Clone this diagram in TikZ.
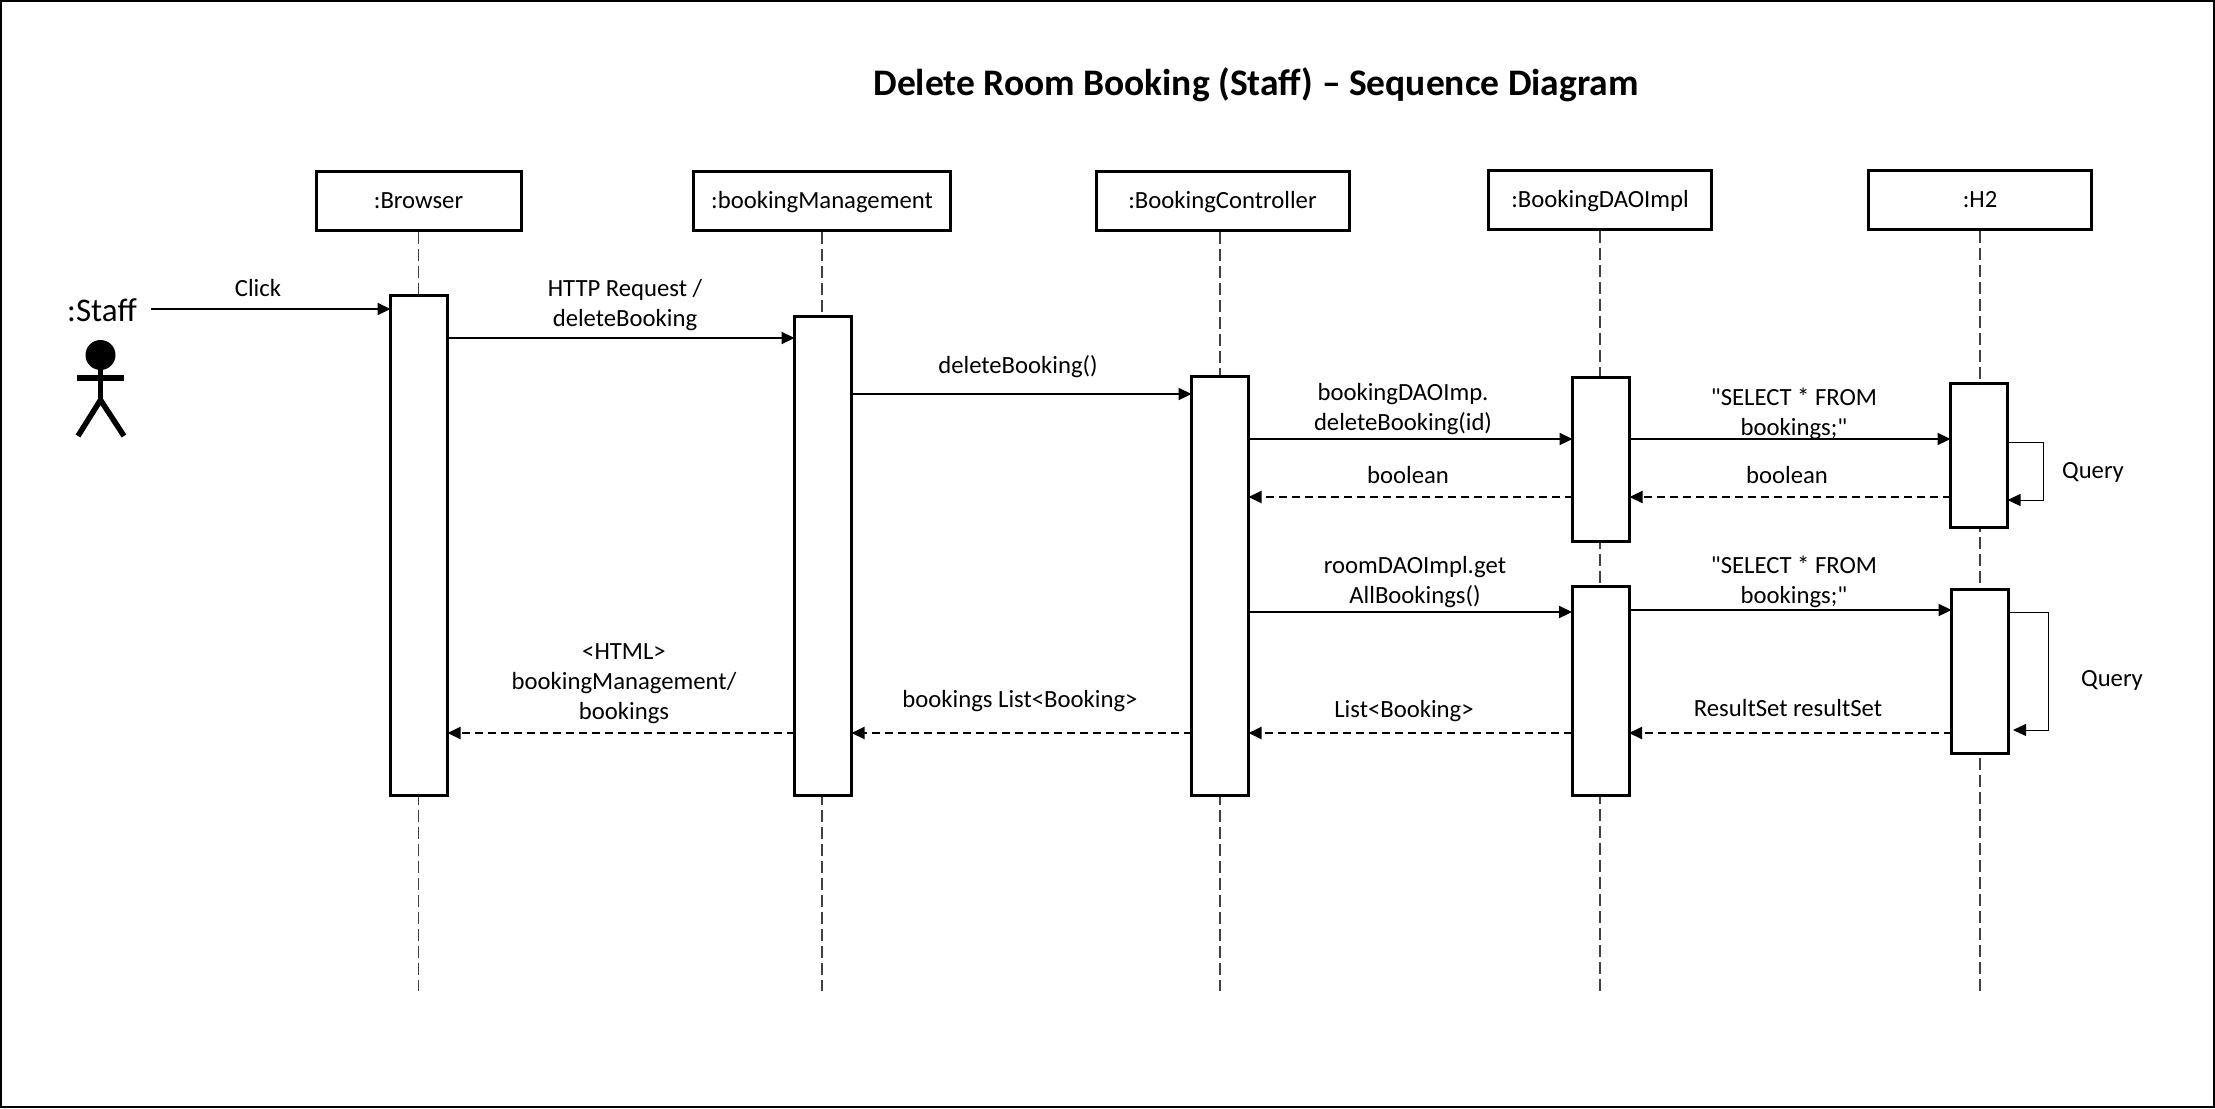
\documentclass[tikz,border=0pt]{standalone}
\usepackage{fontspec}
\setmainfont{Carlito}[Ligatures=TeXOff]
\usetikzlibrary{arrows.meta}
\tikzset{
	headbox/.style={draw,line width=3pt,minimum height=59pt,inner sep=0pt,text height=16pt,text depth=0pt,font=\fontsize{24.7}{30}\selectfont},
	actbar/.style={draw,line width=3pt,fill=white,minimum width=57pt,inner sep=0pt,outer sep=0pt},
	lifeline/.style={line width=1.1pt,draw=black!75,dash pattern=on 12pt off 5pt},
	msg/.style={line width=2.1pt,-{Triangle[length=13pt,width=12pt]}},
	reply/.style={line width=2.1pt,dash pattern=on 8pt off 5pt,-{Triangle[length=13pt,width=12pt]}},
	selfmsg/.style={line width=1pt,-{Triangle[length=13pt,width=12pt]}},
	lbl/.style={align=center,inner sep=0pt,font=\fontsize{24.7}{30}\selectfont},
}
\begin{document}
\begin{tikzpicture}[x=1pt,y=-1pt]
	\useasboundingbox (0,0) rectangle (2215,1108);
	\draw[line width=2.5pt] (1,1) rectangle (2214,1107);
	\node[inner sep=0pt,font=\fontsize{37.5}{44}\selectfont\bfseries] (title) at (1256,85) {Delete Room Booking (Staff) – Sequence Diagram};
	\node[headbox,minimum width=205pt] (browser) at (418.5,200.5) {:Browser};
	\node[headbox,minimum width=257pt] (management) at (822,200.5) {:bookingManagement};
	\node[headbox,minimum width=253pt] (controller) at (1222.5,200.5) {:BookingController};
	\node[headbox,minimum width=223pt] (dao) at (1600,199.5) {:BookingDAOImpl};
	\node[headbox,minimum width=223pt] (htwo) at (1980,199.5) {:H2};
	\draw[lifeline] (browser.south) -- (browser.south |- 0,991);
	\draw[lifeline] (management.south) -- (management.south |- 0,991);
	\draw[lifeline] (controller.south -| 1220,0) -- (1220,991);
	\draw[lifeline] (dao.south) -- (dao.south |- 0,991);
	\draw[lifeline] (htwo.south) -- (htwo.south |- 0,991);
	\node[actbar,minimum height=500pt] (browserbar) at (419,545) {};
	\node[actbar,minimum height=479pt] (managementbar) at (823,555.5) {};
	\node[actbar,minimum height=419pt] (controllerbar) at (1220,585.5) {};
	\node[actbar,minimum height=164pt] (daobarone) at (1601,459) {};
	\node[actbar,minimum height=144pt] (htwobarone) at (1979,455) {};
	\node[actbar,minimum height=209pt] (daobartwo) at (1600.5,690.5) {};
	\node[actbar,minimum height=164pt] (htwobartwo) at (1980,671) {};
	\node[lbl,font=\fontsize{33}{36}\selectfont] (staff) at (102,310) {:Staff};
	\node[circle,fill,inner sep=0pt,minimum size=30pt] (head) at (100.5,355) {};
	\coordinate (hip) at (100.5,400);
	\draw[line width=5.5pt] (head) -- (hip);
	\draw[line width=5.5pt] (76.5,378) -- (124,378);
	\draw[line width=5.5pt] (78,436) -- (hip) -- (124,436);
	\coordinate (clickstart) at (151,309);
	\draw[msg] (clickstart) -- (browserbar.west |- clickstart);
	\node[lbl] (click) at (258,288.5) {Click};
	\draw[msg] (browserbar.east |- 0,338) -- (managementbar.west |- 0,338);
	\node[lbl] (request) at (625,305.5) {HTTP Request /\\deleteBooking};
	\draw[msg] (managementbar.east |- 0,394) -- (controllerbar.west |- 0,394);
	\node[lbl] (deletecall) at (1018,366.5) {deleteBooking()};
	\draw[msg] (controllerbar.east |- 0,439) -- (daobarone.west |- 0,439);
	\node[lbl] (daocall) at (1403,409.5) {bookingDAOImp.\\deleteBooking(id)};
	\draw[msg] (daobarone.east |- 0,439) -- (htwobarone.west |- 0,439);
	\node[lbl] (selectone) at (1794,413.5) {"SELECT * FROM\\bookings;"};
	\draw[reply] (htwobarone.west |- 0,497) -- (daobarone.east |- 0,497);
	\node[lbl] (boolone) at (1787,475) {boolean};
	\draw[reply] (daobarone.west |- 0,497) -- (controllerbar.east |- 0,497);
	\node[lbl] (booltwo) at (1408,475) {boolean};
	\draw[selfmsg] (htwobarone.east |- 0,442) -- (2043,442) -- (2043,500) -- (htwobarone.east |- 0,500);
	\node[lbl] (queryone) at (2093,472) {Query};
	\draw[msg] (controllerbar.east |- 0,612) -- (daobartwo.west |- 0,612);
	\node[lbl] (roomcall) at (1415,582.5) {roomDAOImpl.get\\AllBookings()};
	\draw[msg] (daobartwo.east |- 0,610) -- (htwobartwo.west |- 0,610);
	\node[lbl] (selecttwo) at (1794,581.5) {"SELECT * FROM\\bookings;"};
	\draw[selfmsg] (htwobartwo.east |- 0,612) -- (2048,612) -- (2048,730) -- (2013,730);
	\node[lbl] (querytwo) at (2112,680) {Query};
	\draw[reply] (htwobartwo.west |- 0,733) -- (daobartwo.east |- 0,733);
	\node[lbl] (resultset) at (1788,708) {ResultSet resultSet};
	\draw[reply] (daobartwo.west |- 0,733) -- (controllerbar.east |- 0,733);
	\node[lbl] (listlabel) at (1404,711) {List<Booking>};
	\draw[reply] (controllerbar.west |- 0,733) -- (managementbar.east |- 0,733);
	\node[lbl] (bookingslist) at (1020,701) {bookings List<Booking>};
	\draw[reply] (managementbar.west |- 0,733) -- (browserbar.east |- 0,733);
	\node[lbl] (html) at (624,684) {<HTML>\\bookingManagement/\\bookings};
\end{tikzpicture}
\end{document}
